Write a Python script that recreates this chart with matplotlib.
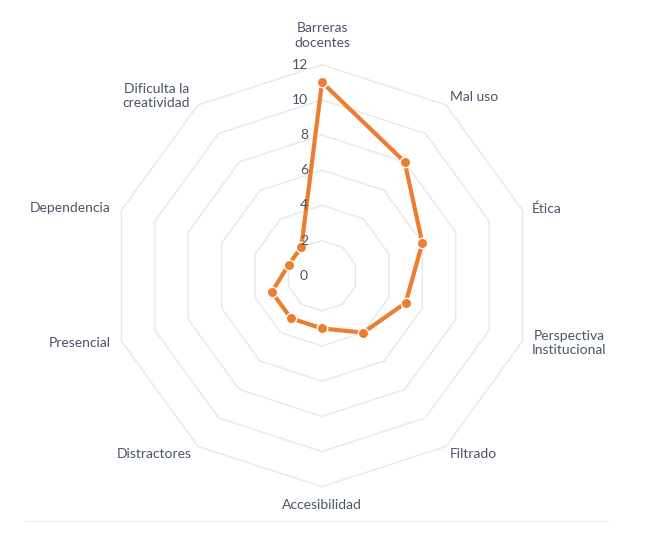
import numpy as np
import matplotlib
matplotlib.use("Agg")
import matplotlib.pyplot as plt
from matplotlib.lines import Line2D

categories = ["Barreras\ndocentes", "Mal uso", "Ética", "Perspectiva\nInstitucional",
              "Filtrado", "Accesibilidad", "Distractores", "Presencial",
              "Dependencia", "Dificulta la\ncreatividad"]
values = [11, 8, 6, 5, 4, 3, 3, 3, 2, 2]
ring_values = [2, 4, 6, 8, 10, 12]
radial_labels = ["0", "2", "4", "6", "8", "10", "12"]

plt.rcParams['font.family'] = ['Lato', 'DejaVu Sans']
TEXT = '#4A5568'
GRID = '#E4E7EB'
ORANGE = '#ED7D31'

W, H = 671, 538
fig = plt.figure(figsize=(W / 100, H / 100), dpi=100)
cx, cy, R = 322, 275.7, 211
ax = fig.add_axes([(cx - R) / W, (H - cy - R) / H, 2 * R / W, 2 * R / H], projection='polar')
ax.set_theta_offset(np.pi / 2)
ax.set_theta_direction(-1)
ax.set_ylim(0, 12)
ax.grid(False)
ax.spines['polar'].set_visible(False)
ax.set_xticks([])
ax.set_yticks([])
ax.patch.set_alpha(0)

n = len(categories)
angles = np.arange(n) * 2 * np.pi / n
closed = np.append(angles, angles[0])

for r in ring_values:
    ax.plot(closed, [r] * (n + 1), color=GRID, lw=1.0, zorder=1, clip_on=False)

vals = np.append(values, values[0])
ax.plot(closed, vals, color=ORANGE, lw=3.0, zorder=3, solid_joinstyle='round')
ax.plot(angles, values, 'o', color=ORANGE, markersize=7.5, markeredgecolor='white',
        markeredgewidth=1.0, zorder=4)

# radial labels
for i, lab in enumerate(radial_labels):
    ax.annotate(lab, xy=(0, i * 2), xytext=(-14, 0), textcoords='offset pixels',
                ha='right', va='center', fontsize=10, color=TEXT, zorder=5,
                annotation_clip=False)

# category labels: (dx, dy, ha, va)
offs = [(0, 29, 'center', 'center'), (4, 8, 'left', 'center'), (9, 2, 'left', 'center'),
        (9, -2, 'left', 'center'), (4, -8, 'left', 'center'), (0, -18, 'center', 'center'),
        (-6, -8, 'right', 'center'), (-11, -2, 'right', 'center'),
        (-11, 2, 'right', 'center'), (-8, 9, 'right', 'center')]
for a, lab, (dx, dy, ha, va) in zip(angles, categories, offs):
    ax.annotate(lab, xy=(a, 12), xytext=(dx, dy), textcoords='offset pixels',
                ha=ha, va=va, multialignment='center', fontsize=10, color=TEXT,
                annotation_clip=False, linespacing=1.25)

fig.add_artist(Line2D([25 / W, 608 / W], [1 - 521 / H, 1 - 521 / H],
                      transform=fig.transFigure, color='#EDEEF0', lw=0.8))

fig.savefig("out.png", dpi=100)
